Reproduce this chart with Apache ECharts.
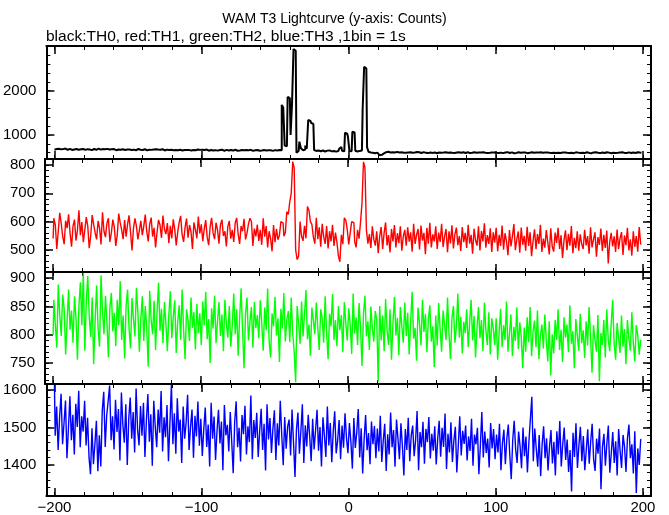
<!DOCTYPE html>
<html><head><meta charset="utf-8">
<script src="https://cdn.jsdelivr.net/npm/echarts@6/dist/echarts.min.js"></script>
<style>html,body{margin:0;padding:0;background:#fff}#c{width:669px;height:515px}</style>
</head><body><div id="c"></div>
<script>
const titleText = 'WAM T3 Lightcurve (y-axis: Counts)';
const subText = 'black:TH0, red:TH1, green:TH2, blue:TH3 ,1bin = 1s';
const binStart = -200;   // time of first 1 s bin
const binSize = 1;

const th0 = [
668,685,672,690,676,660,681,694,670,665,688,679,662,674,691,683,667,659,677,686,
672,664,680,689,671,658,675,684,666,678,692,670,661,683,676,668,687,673,662,679,
681,669,657,674,688,665,677,683,660,671,686,674,663,680,669,655,676,684,667,672,
661,678,670,652,668,681,664,673,659,676,670,657,665,679,662,651,670,674,660,666,
672,658,663,675,654,667,671,650,662,676,659,664,670,648,661,669,657,673,655,664,
668,652,660,671,656,645,663,669,650,658,666,647,661,655,668,643,659,664,651,657,
662,648,655,667,644,658,652,663,640,656,661,647,653,666,649,642,657,650,662,645,
654,648,659,643,651,657,646,655,641,650,658,648,650,660,655,1680,1620,760,745,1860,
1830,1000,1720,2940,2900,600,640,850,700,655,670,760,690,1340,1320,1270,1250,660,640,652,
645,633,650,641,628,647,636,652,630,644,639,625,648,637,690,730,642,631,1050,1030,
960,640,632,1075,1060,645,628,641,636,650,1590,2540,2500,720,620,605,598,615,590,602,
560,545,552,570,585,612,598,620,605,590,611,603,596,618,607,592,609,600,615,598,
606,594,612,600,588,605,617,599,610,593,604,614,597,608,591,603,611,596,607,600,
589,605,612,598,603,594,610,601,586,607,599,613,595,604,590,608,600,597,611,593,
602,609,591,604,598,612,595,600,607,589,603,610,596,601,594,608,599,605,590,606,
597,611,593,602,608,591,605,598,612,594,600,607,589,603,596,609,592,601,606,595,
603,590,608,597,612,594,600,605,588,602,611,593,599,606,591,604,598,610,594,601,
607,592,600,611,595,603,589,606,598,613,592,600,604,590,609,597,602,594,608,599,
591,604,610,596,600,589,607,595,612,598,603,591,606,600,594,610,597,602,588,605,
600,593,609,597,604,590,611,596,602,594,608,599,592,606,601,595,610,597,603,600];

const th1 = [
540,612,588,503,566,631,594,548,520,603,577,626,559,511,584,607,533,569,640,552,
598,527,571,616,584,506,549,623,590,561,537,602,578,519,633,566,545,594,612,528,
560,607,581,514,552,628,596,571,538,605,547,590,622,563,498,576,611,584,537,569,
603,552,584,625,566,530,591,614,547,578,509,563,606,588,542,621,573,556,595,524,
585,541,608,572,516,563,597,620,554,528,579,611,543,588,565,503,597,572,541,618,
558,590,531,574,605,545,517,582,613,560,538,596,571,522,589,607,549,566,512,583,
602,540,571,528,595,613,556,521,584,566,610,537,559,592,612,600,514,575,548,589,
532,571,518,612,547,584,509,566,540,495,588,527,574,536,552,600,595,548,561,635,
625,670,700,812,790,500,466,478,600,548,532,585,541,653,640,600,590,545,522,613,
538,580,511,592,547,521,584,505,566,530,589,514,561,527,478,458,553,520,613,605,
572,519,560,600,596,530,509,571,540,598,666,811,790,570,522,556,507,583,538,515,
566,488,549,581,503,560,597,516,552,491,574,530,588,509,559,524,583,497,548,571,
515,580,529,562,494,592,521,553,574,502,586,533,560,485,578,522,596,509,555,530,
583,503,561,528,592,510,548,574,492,566,523,587,505,555,579,517,549,496,581,527,
560,507,589,522,553,487,575,534,515,583,498,567,530,594,508,552,521,576,493,562,
526,578,495,553,514,586,501,559,530,481,570,512,548,591,499,537,565,490,579,518,
550,497,582,514,562,478,531,573,503,556,521,589,493,540,508,570,527,484,576,512,
494,561,525,578,503,552,472,534,569,499,557,515,584,488,543,506,566,497,555,521,
503,571,516,549,487,580,509,537,562,476,545,518,575,496,553,507,568,452,528,560,
512,548,493,572,503,541,563,482,551,517,578,498,537,480,566,511,549,494,581,521];

const th2 = [
800,862,818,777,889,835,798,871,846,765,824,880,809,843,786,868,830,756,851,893,
817,909,772,858,904,833,796,866,748,825,887,811,779,905,842,801,869,823,760,848,
874,806,839,780,862,817,895,791,834,758,851,880,812,776,865,828,797,883,840,770,
829,868,789,851,812,744,878,826,801,860,773,839,892,807,846,785,858,819,771,836,
877,794,832,861,768,823,852,791,880,809,757,845,826,789,866,812,840,774,855,803,
838,782,859,817,876,792,828,750,847,811,869,785,824,858,798,836,771,862,820,795,
851,779,816,873,801,845,763,829,882,808,741,837,866,790,823,849,777,858,812,835,
794,861,821,772,848,808,882,789,760,838,815,867,799,829,752,846,811,874,788,826,
842,787,866,803,770,716,851,820,784,859,797,836,879,792,818,763,848,826,801,857,
812,773,845,829,786,868,804,757,837,815,872,791,826,780,851,808,835,769,858,821,
790,847,818,766,873,802,831,782,856,813,745,838,869,797,824,773,850,812,788,842,
826,717,851,790,834,771,863,808,782,845,756,821,867,799,830,764,849,815,786,857,
798,839,765,824,876,793,812,754,848,820,781,862,805,837,769,827,852,788,815,743,
834,781,856,809,770,843,818,791,866,802,757,829,851,786,814,873,795,832,767,823,
803,845,778,821,862,790,833,760,812,849,794,826,771,857,808,782,840,765,829,811,
782,829,756,804,846,778,817,791,859,770,801,836,762,814,789,848,775,822,797,741,
813,770,831,787,849,762,806,825,778,843,757,799,818,776,836,790,753,824,728,801,
767,826,791,845,773,809,752,831,795,818,769,852,784,806,741,828,799,772,837,785,
808,759,824,781,849,796,733,817,790,770,835,718,803,782,826,760,845,792,771,819,
862,784,756,821,795,768,834,779,810,748,826,793,772,840,786,753,817,799,765,790];

const th3 = [
1612,1478,1556,1440,1528,1590,1455,1512,1572,1418,1497,1583,1466,1534,1428,1563,1501,1598,1447,1530,
1489,1571,1452,1526,1420,1375,1498,1402,1455,1518,1383,1479,1396,1545,1595,1448,1532,1570,1612,1466,
1530,1441,1574,1488,1549,1412,1593,1507,1459,1562,1400,1523,1580,1470,1541,1433,1604,1495,1452,1557,
1478,1566,1421,1519,1589,1462,1535,1398,1571,1503,1447,1548,1486,1597,1436,1527,1474,1560,1410,1512,
1614,1455,1538,1430,1578,1489,1521,1405,1556,1470,1513,1587,1440,1502,1548,1419,1531,1476,1569,1451,
1523,1424,1496,1553,1448,1508,1396,1566,1470,1529,1413,1491,1547,1457,1516,1386,1560,1479,1507,1436,
1541,1462,1378,1514,1570,1447,1499,1409,1533,1482,1558,1428,1503,1461,1585,1415,1520,1472,1539,1421,
1490,1550,1440,1510,1385,1562,1468,1525,1432,1497,1546,1413,1511,1452,1571,1480,1399,1528,1443,1502,
1521,1425,1548,1460,1368,1495,1540,1430,1489,1562,1405,1506,1449,1534,1475,1410,1523,1441,1493,1547,
1438,1501,1396,1527,1478,1421,1556,1452,1512,1407,1490,1543,1431,1465,1520,1415,1505,1446,1538,1472,
1431,1512,1462,1390,1525,1445,1487,1549,1420,1498,1377,1468,1533,1439,1485,1402,1516,1455,1504,1418,
1497,1436,1531,1408,1465,1510,1384,1482,1428,1540,1447,1493,1395,1521,1470,1415,1511,1452,1372,1496,
1440,1526,1410,1478,1505,1423,1466,1544,1386,1488,1447,1515,1403,1496,1461,1528,1417,1483,1438,1503,
1401,1470,1518,1422,1499,1448,1537,1389,1483,1433,1514,1408,1465,1502,1380,1452,1530,1425,1491,1456,
1505,1412,1476,1437,1523,1398,1481,1455,1499,1375,1450,1541,1420,1489,1432,1470,1393,1512,1444,1496,
1415,1481,1433,1510,1386,1458,1494,1402,1470,1508,1427,1362,1466,1518,1441,1405,1489,1450,1391,1500,
1423,1476,1380,1461,1522,1582,1410,1497,1443,1395,1480,1370,1455,1503,1418,1471,1385,1447,1493,1404,
1462,1372,1490,1428,1517,1396,1455,1500,1413,1468,1381,1440,1329,1486,1421,1511,1392,1452,1502,1410,
1477,1386,1440,1495,1403,1462,1510,1415,1384,1470,1430,1497,1335,1448,1483,1398,1457,1505,1379,1431,
1488,1405,1463,1372,1496,1437,1392,1480,1449,1381,1472,1508,1418,1455,1377,1490,1325,1444,1400,1468];

const xLabels = [-200, -100, 0, 100, 200];
const xMinorStep = 20;
const yLabels = [[1000, 2000], [500, 600, 700, 800], [750, 800, 850, 900], [1400, 1500, 1600]];
const yMinorStep = [200, 20, 10, 20];
const yRange = [[458, 3009], [422, 821], [713, 911], [1317, 1616]];
const xRange = [-205.5, 205.5];
const seriesColors = ['#000000', '#ff0000', '#00ff00', '#0000ff'];
const curves = [th0, th1, th2, th3];

const FONT = 'Liberation Sans, Arial, Helvetica, sans-serif';
const tops = [46, 159, 272, 384];
const heights = [113, 113, 112, 112];

function range(a, b, s) { const r = []; for (let v = a; v <= b + 1e-9; v += s) r.push(v); return r; }
function fmt(v) { return v < 0 ? '\u2212' + (-v) : String(v); }

const grid = [], xAxis = [], yAxis = [], series = [];
for (let g = 0; g < 4; g++) {
  grid.push({ left: 45, width: 606, top: tops[g], height: heights[g], containLabel: false });
  const xMinor = range(-200, 200, xMinorStep);
  const base = { type: 'value', gridIndex: g, min: xRange[0], max: xRange[1], splitLine: { show: false } };
  const xi = xAxis.length;
  ['bottom', 'top'].forEach(pos => {
    xAxis.push(Object.assign({}, base, {
      position: pos,
      axisLine: { show: true, onZero: false, lineStyle: { color: '#000', width: 2 } },
      axisTick: { show: true, inside: true, length: 8, customValues: xLabels, lineStyle: { color: '#000', width: 1.5 } },
      axisLabel: { show: pos === 'bottom' && g === 3, customValues: xLabels, margin: 4, color: '#000', fontSize: 15, fontFamily: FONT, formatter: fmt }
    }));
    xAxis.push(Object.assign({}, base, {
      position: pos,
      axisLine: { show: false, onZero: false },
      axisTick: { show: true, inside: true, length: 4, customValues: xMinor, lineStyle: { color: '#000', width: 1 } },
      axisLabel: { show: false }
    }));
  });
  const yb = { type: 'value', gridIndex: g, min: yRange[g][0], max: yRange[g][1], splitLine: { show: false } };
  const yMinor = range(Math.ceil(yRange[g][0] / yMinorStep[g]) * yMinorStep[g], yRange[g][1], yMinorStep[g]);
  const yi = yAxis.length;
  ['left', 'right'].forEach(pos => {
    yAxis.push(Object.assign({}, yb, {
      position: pos,
      axisLine: { show: true, onZero: false, lineStyle: { color: '#000', width: 2 } },
      axisTick: { show: true, inside: true, length: 8, customValues: yLabels[g], lineStyle: { color: '#000', width: 1.5 } },
      axisLabel: { show: pos === 'left', customValues: yLabels[g], margin: 10, color: '#000', fontSize: 15, fontFamily: FONT, formatter: fmt }
    }));
    yAxis.push(Object.assign({}, yb, {
      position: pos,
      axisLine: { show: false, onZero: false },
      axisTick: { show: true, inside: true, length: 4, customValues: yMinor, lineStyle: { color: '#000', width: 1 } },
      axisLabel: { show: false }
    }));
  });
  series.push({
    type: 'line', xAxisIndex: xi, yAxisIndex: yi,
    data: curves[g].map((v, i) => [binStart + i * binSize, v]),
    step: 'middle', showSymbol: false, symbol: 'none', silent: true,
    lineStyle: { color: seriesColors[g], width: g === 0 ? 2 : 1.4 },
    animation: false
  });
}

const chart = echarts.init(document.getElementById('c'), null, { renderer: 'canvas' });
chart.setOption({
  backgroundColor: '#fff',
  animation: false,
  title: [
    { text: titleText, left: 'center', top: 7, textStyle: { fontSize: 14, fontWeight: 'normal', color: '#000', fontFamily: FONT } },
    { text: subText, left: 41, top: 24, textStyle: { fontSize: 15.5, fontWeight: 'normal', color: '#000', fontFamily: FONT } }
  ],
  grid, xAxis, yAxis, series
});
</script></body></html>
